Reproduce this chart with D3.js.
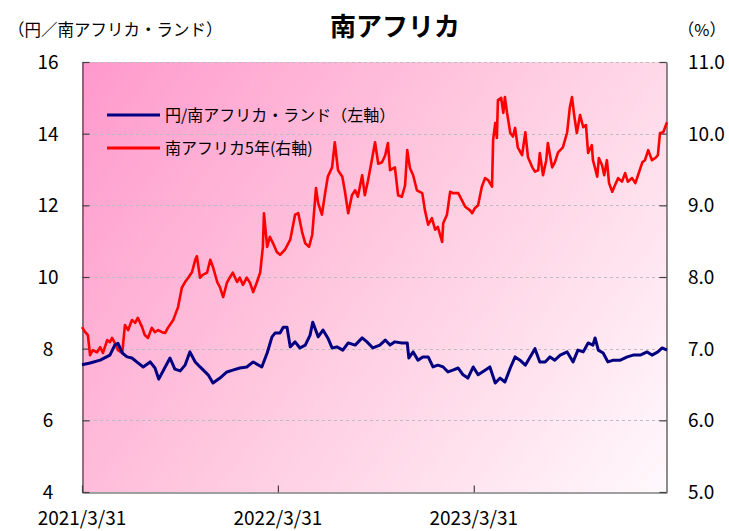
<!DOCTYPE html>
<html>
<head>
<meta charset="utf-8">
<script src="https://cdn.jsdelivr.net/npm/d3@7"></script>
<style>
  body { margin: 0; background: #fff; }
  text { font-family: "Noto Sans CJK JP", "Noto Sans", sans-serif; fill: #000; }
</style>
</head>
<body>
<div id="chart"></div>
<script>
// tick labels
var leftTicks = [4, 6, 8, 10, 12, 14, 16];
var rightTicks = [5, 6, 7, 8, 9, 10, 11];
var dateTicks = ["2021-03-31", "2022-03-31", "2023-03-31"];
var dateTickLabels = ["2021/3/31", "2022/3/31", "2023/3/31"];

// 円/南アフリカ・ランド (left axis)
var fxDates = ["2021-03-31","2021-04-15","2021-05-04","2021-05-22","2021-05-31","2021-06-06","2021-06-14","2021-06-23",
  "2021-07-02","2021-07-11","2021-07-23","2021-08-05","2021-08-14","2021-08-21","2021-09-02","2021-09-11","2021-09-20",
  "2021-09-30","2021-10-09","2021-10-18","2021-10-28","2021-11-06","2021-11-21","2021-11-30","2021-12-13","2021-12-26",
  "2022-01-06","2022-01-19","2022-02-01","2022-02-13","2022-03-01","2022-03-11","2022-03-20","2022-03-26","2022-04-04",
  "2022-04-10","2022-04-17","2022-04-23","2022-05-02","2022-05-11","2022-05-21","2022-05-30","2022-06-04","2022-06-14",
  "2022-06-23","2022-07-02","2022-07-10","2022-07-19","2022-07-30","2022-08-09","2022-08-22","2022-09-04","2022-09-13",
  "2022-09-24","2022-10-07","2022-10-17","2022-10-26","2022-11-04","2022-11-17","2022-11-27","2022-11-30","2022-12-08",
  "2022-12-17","2022-12-26","2023-01-05","2023-01-14","2023-01-23","2023-02-02","2023-02-11","2023-02-20","2023-03-02",
  "2023-03-11","2023-03-20","2023-03-30","2023-04-08","2023-04-21","2023-04-30","2023-05-10","2023-05-19","2023-05-28",
  "2023-06-07","2023-06-16","2023-06-25","2023-07-05","2023-07-14","2023-07-23","2023-08-01","2023-08-11","2023-08-20",
  "2023-08-29","2023-09-08","2023-09-21","2023-10-02","2023-10-11","2023-10-21","2023-10-30","2023-11-08","2023-11-12",
  "2023-11-18","2023-11-27","2023-12-06","2023-12-16","2023-12-29","2024-01-11","2024-01-22","2024-02-04","2024-02-17",
  "2024-02-26","2024-03-08","2024-03-16","2024-03-25"];
var fxValues = [7.55,7.60,7.68,7.82,8.10,8.15,7.88,7.77,
  7.74,7.63,7.49,7.63,7.46,7.15,7.49,7.74,7.43,
  7.38,7.54,7.91,7.63,7.49,7.27,7.04,7.18,7.35,
  7.40,7.46,7.49,7.63,7.49,7.88,8.33,8.44,8.44,
  8.60,8.60,8.05,8.19,8.02,8.10,8.38,8.74,8.33,
  8.52,8.30,8.02,8.05,7.96,8.16,8.10,8.30,8.19,
  8.02,8.10,8.24,8.10,8.19,8.16,8.16,7.74,7.91,
  7.68,7.77,7.77,7.49,7.54,7.49,7.35,7.40,7.46,
  7.27,7.18,7.49,7.27,7.40,7.49,7.04,7.18,7.07,
  7.46,7.77,7.68,7.54,7.77,8.00,7.63,7.63,7.77,
  7.68,7.82,7.91,7.63,7.96,7.91,8.16,8.10,8.30,
  7.96,7.88,7.63,7.68,7.68,7.77,7.82,7.82,7.91,
  7.82,7.91,8.02,7.96];

// 南アフリカ5年 (right axis, %)
var yieldDates = ["2021-03-31","2021-04-06","2021-04-11","2021-04-15","2021-04-20","2021-04-28","2021-05-04","2021-05-09",
  "2021-05-17","2021-05-22","2021-05-26","2021-05-31","2021-06-06","2021-06-14","2021-06-19","2021-06-25","2021-07-02",
  "2021-07-08","2021-07-13","2021-07-21","2021-07-26","2021-08-01","2021-08-08","2021-08-14","2021-08-20","2021-08-27",
  "2021-09-02","2021-09-07","2021-09-17","2021-09-26","2021-10-03","2021-10-09","2021-10-15","2021-10-22","2021-10-28",
  "2021-10-31","2021-11-06","2021-11-11","2021-11-19","2021-11-25","2021-11-30","2021-12-08","2021-12-13","2021-12-19",
  "2021-12-26","2022-01-01","2022-01-06","2022-01-14","2022-01-19","2022-01-25","2022-02-01","2022-02-07","2022-02-13",
  "2022-02-20","2022-02-26","2022-03-03","2022-03-05","2022-03-11","2022-03-16","2022-03-22","2022-03-29","2022-04-04",
  "2022-04-13","2022-04-23","2022-05-02","2022-05-08","2022-05-15","2022-05-21","2022-05-28","2022-06-03","2022-06-10",
  "2022-06-14","2022-06-21","2022-06-27","2022-07-02","2022-07-10","2022-07-15","2022-07-21","2022-07-29","2022-08-03",
  "2022-08-09","2022-08-16","2022-08-22","2022-08-27","2022-09-04","2022-09-09","2022-09-15","2022-09-22","2022-09-28",
  "2022-10-04","2022-10-11","2022-10-17","2022-10-22","2022-10-26","2022-11-04","2022-11-10","2022-11-17","2022-11-23",
  "2022-11-27","2022-12-02","2022-12-08","2022-12-15","2022-12-25","2022-12-30","2023-01-05","2023-01-12","2023-01-18",
  "2023-01-23","2023-01-31","2023-02-02","2023-02-09","2023-02-15","2023-02-20","2023-03-02","2023-03-09","2023-03-15",
  "2023-03-24","2023-03-28","2023-04-02","2023-04-08","2023-04-15","2023-04-21","2023-04-27","2023-05-04","2023-05-06",
  "2023-05-10","2023-05-13","2023-05-15","2023-05-21","2023-05-25","2023-05-28","2023-06-01","2023-06-07","2023-06-12",
  "2023-06-16","2023-06-21","2023-06-29","2023-07-05","2023-07-10","2023-07-18","2023-07-23","2023-07-29","2023-08-01",
  "2023-08-07","2023-08-13","2023-08-16","2023-08-24","2023-08-29","2023-09-04","2023-09-13","2023-09-21","2023-09-26",
  "2023-09-30","2023-10-04","2023-10-09","2023-10-15","2023-10-21","2023-10-26","2023-10-30","2023-11-06","2023-11-08",
  "2023-11-12","2023-11-16","2023-11-19","2023-11-25","2023-11-29","2023-12-04","2023-12-08","2023-12-14","2023-12-19",
  "2023-12-25","2024-01-01","2024-01-07","2024-01-12","2024-01-20","2024-01-26","2024-01-31","2024-02-08","2024-02-13",
  "2024-02-19","2024-02-26","2024-03-03","2024-03-08","2024-03-12","2024-03-18","2024-03-25"];
var yieldValues = [7.30,7.23,7.19,6.91,6.98,6.95,7.02,6.94,
  7.12,7.09,7.15,7.08,6.98,6.94,7.33,7.26,7.40,
  7.36,7.43,7.30,7.19,7.15,7.29,7.23,7.26,7.23,
  7.22,7.29,7.40,7.58,7.85,7.93,7.99,8.07,8.24,
  8.29,7.99,8.03,8.06,8.24,8.14,7.93,7.86,7.72,
  7.92,8.00,8.06,7.93,7.99,7.89,7.99,7.92,7.79,
  7.93,8.06,8.42,8.89,8.42,8.56,8.47,8.35,8.31,
  8.38,8.52,8.87,8.89,8.63,8.47,8.42,8.59,9.24,
  9.03,8.87,9.17,9.40,9.53,9.88,9.49,9.40,9.19,
  8.89,9.14,9.21,9.12,9.42,9.14,9.35,9.63,9.88,
  9.58,9.60,9.70,9.87,9.49,9.53,9.14,9.12,9.28,
  9.77,9.52,9.42,9.21,9.17,8.93,8.73,8.82,8.66,
  8.70,8.49,8.75,8.87,9.19,9.17,9.17,9.07,8.98,
  8.93,8.89,8.96,9.00,9.26,9.38,9.35,9.26,9.91,
  10.15,9.94,10.47,10.50,10.29,10.51,10.29,10.01,9.96,
  10.08,9.81,9.70,10.02,9.67,9.53,9.47,9.49,9.73,
  9.42,9.63,9.87,9.53,9.60,9.74,9.81,10.02,10.37,
  10.51,10.26,10.01,10.26,10.09,10.12,9.73,9.84,9.63,
  9.52,9.40,9.66,9.56,9.42,9.63,9.31,9.19,9.28,
  9.38,9.33,9.45,9.33,9.38,9.31,9.42,9.60,9.63,
  9.77,9.63,9.66,9.70,10.01,10.02,10.16];

var W = 729, H = 531;
var plot = {left: 82, right: 667, top: 62, bottom: 492};
var parse = d3.timeParse("%Y-%m-%d");

var svg = d3.select("#chart").append("svg")
    .attr("width", W)
    .attr("height", H);

// background gradient of the plot area
var grad = svg.append("defs").append("linearGradient")
    .attr("id", "bg")
    .attr("gradientUnits", "userSpaceOnUse")
    .attr("x1", plot.left).attr("y1", plot.top)
    .attr("x2", plot.right).attr("y2", plot.bottom);
grad.append("stop").attr("offset", "0").attr("stop-color", "#ff99cc");
grad.append("stop").attr("offset", "0.5").attr("stop-color", "#ffcbe0");
grad.append("stop").attr("offset", "1").attr("stop-color", "#fff9fc");

svg.append("rect")
    .attr("x", plot.left).attr("y", plot.top)
    .attr("width", plot.right - plot.left).attr("height", plot.bottom - plot.top)
    .attr("fill", "url(#bg)");

var x = d3.scaleTime()
    .domain([parse("2021-03-31"), parse("2024-03-25")])
    .range([plot.left, plot.right]);
var yL = d3.scaleLinear().domain([4, 16]).range([plot.bottom, plot.top]);
var yR = d3.scaleLinear().domain([5, 11]).range([plot.bottom, plot.top]);

// grid
svg.append("g").selectAll("line")
    .data(leftTicks.slice(1))
    .enter().append("line")
    .attr("x1", plot.left).attr("x2", plot.right)
    .attr("y1", function(d) { return Math.round(yL(d)) + 0.5; })
    .attr("y2", function(d) { return Math.round(yL(d)) + 0.5; })
    .attr("stroke", "#bdbdbd")
    .attr("stroke-dasharray", "3,3");

// axes (ticks point inward)
var axisColor = "#404040";
var gL = svg.append("g")
    .attr("transform", "translate(" + (plot.left + 0.5) + ",0)")
    .call(d3.axisLeft(yL).tickValues(leftTicks).tickSizeInner(-7).tickSizeOuter(0).tickFormat(""));
var gR = svg.append("g")
    .attr("transform", "translate(" + (plot.right - 0.5) + ",0)")
    .call(d3.axisRight(yR).tickValues(rightTicks).tickSizeInner(-7).tickSizeOuter(0).tickFormat(""));
var gB = svg.append("g")
    .attr("transform", "translate(0," + (plot.bottom + 0.5) + ")")
    .call(d3.axisBottom(x).tickValues(dateTicks.map(parse)).tickSizeInner(-7).tickSizeOuter(0).tickFormat(""));
[gL, gR, gB].forEach(function(g) {
    g.selectAll("path, line").attr("stroke", axisColor).attr("stroke-width", 1.2);
});

// tick labels
svg.append("g").selectAll("text")
    .data(leftTicks)
    .enter().append("text")
    .attr("x", 48)
    .attr("y", function(d) { return yL(d) + 7; })
    .attr("text-anchor", "middle")
    .style("font-size", "19px")
    .text(function(d) { return d; });

svg.append("g").selectAll("text")
    .data(rightTicks)
    .enter().append("text")
    .attr("x", 688)
    .attr("y", function(d) { return yR(d) + 7; })
    .style("font-size", "19px")
    .text(function(d) { return d.toFixed(1); });

svg.append("g").selectAll("text")
    .data(dateTicks)
    .enter().append("text")
    .attr("x", function(d) { return x(parse(d)); })
    .attr("y", 525)
    .attr("text-anchor", "middle")
    .style("font-size", "19px")
    .text(function(d, i) { return dateTickLabels[i]; });

// lines
var fxData = fxDates.map(function(d, i) { return {date: parse(d), value: fxValues[i]}; });
var yieldData = yieldDates.map(function(d, i) { return {date: parse(d), value: yieldValues[i]}; });

svg.append("path")
    .datum(yieldData)
    .attr("fill", "none")
    .attr("stroke", "#ff0000")
    .attr("stroke-width", 2.6)
    .attr("stroke-linejoin", "round")
    .attr("d", d3.line()
        .x(function(d) { return x(d.date); })
        .y(function(d) { return yR(d.value); }));

svg.append("path")
    .datum(fxData)
    .attr("fill", "none")
    .attr("stroke", "#000080")
    .attr("stroke-width", 3)
    .attr("stroke-linejoin", "round")
    .attr("d", d3.line()
        .x(function(d) { return x(d.date); })
        .y(function(d) { return yL(d.value); }));

// legend
var legend = [
    {label: "円/南アフリカ・ランド（左軸）", color: "#000080", y: 115},
    {label: "南アフリカ5年(右軸)", color: "#ff0000", y: 148}
];
var lg = svg.append("g").selectAll("g").data(legend).enter().append("g");
lg.append("line")
    .attr("x1", 107).attr("x2", 160)
    .attr("y1", function(d) { return d.y; })
    .attr("y2", function(d) { return d.y; })
    .attr("stroke", function(d) { return d.color; })
    .attr("stroke-width", 3);
lg.append("text")
    .attr("x", 165)
    .attr("y", function(d) { return d.y + 6; })
    .style("font-size", "16px")
    .text(function(d) { return d.label; });

// titles
svg.append("text")
    .attr("x", 395).attr("y", 36)
    .attr("text-anchor", "middle")
    .style("font-size", "26px")
    .style("font-weight", "bold")
    .text("南アフリカ");
svg.append("text")
    .attr("x", 8).attr("y", 36)
    .style("font-size", "16.5px")
    .text("（円／南アフリカ・ランド）");
svg.append("text")
    .attr("x", 726).attr("y", 36)
    .attr("text-anchor", "end")
    .style("font-size", "16.5px")
    .text("（%）");
</script>
</body>
</html>
